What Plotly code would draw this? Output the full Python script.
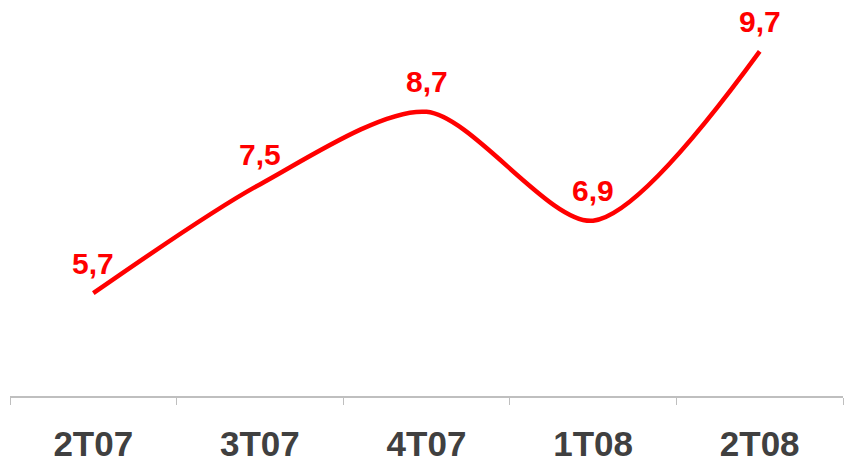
import plotly.graph_objects as go

# Quarterly values
quarters = ["2T07", "3T07", "4T07", "1T08", "2T08"]
values = [5.7, 7.5, 8.7, 6.9, 9.7]
value_labels = ["5,7", "7,5", "8,7", "6,9", "9,7"]

RED = "#ff0000"
AXIS_GREY = "#bfbfbf"
LABEL_GREY = "#404040"
FONT = "Arial, 'Liberation Sans', sans-serif"

fig = go.Figure()

fig.add_trace(go.Scatter(
    x=quarters,
    y=values,
    mode="lines",
    line=dict(color=RED, width=4.5, shape="spline", smoothing=0.8),
    hoverinfo="skip",
    showlegend=False,
))

# Value labels above each point
for q, v, t in zip(quarters, values, value_labels):
    fig.add_annotation(
        x=q, y=v, text=f"<b>{t}</b>",
        showarrow=False, yshift=30,
        font=dict(family=FONT, size=30, color=RED),
    )

fig.update_layout(
    width=846, height=465,
    margin=dict(l=10, r=3, t=0, b=69),
    paper_bgcolor="white",
    plot_bgcolor="white",
    xaxis=dict(
        type="category",
        range=[-0.5, 4.5],
        automargin=False,
        tickson="boundaries",
        ticks="outside",
        ticklen=7,
        tickwidth=1,
        tickcolor=AXIS_GREY,
        showline=True,
        linecolor=AXIS_GREY,
        linewidth=1.5,
        showgrid=False,
        zeroline=False,
        ticklabelstandoff=16,
        tickfont=dict(family=FONT, size=35, color=LABEL_GREY, weight="bold"),
    ),
    yaxis=dict(
        range=[4.0, 10.55],
        visible=False,
        showgrid=False,
        zeroline=False,
    ),
)

fig.write_html("out.html")
